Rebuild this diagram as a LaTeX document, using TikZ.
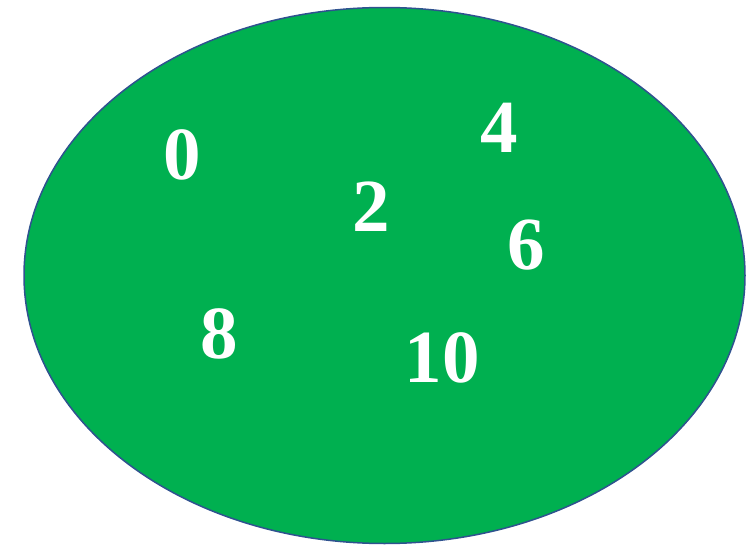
\documentclass[tikz,border=0pt]{standalone}
\usepackage{fontspec}
\setmainfont{Liberation Serif}
\definecolor{SetGreen}{HTML}{00B050}
\definecolor{SetEdge}{HTML}{2F528F}

\begin{document}
\begin{tikzpicture}[x=1pt,y=-1pt]
\tikzset{elem/.style={text=white, font=\fontsize{75}{75}\selectfont\bfseries, inner sep=0pt}}
\useasboundingbox (0,0) rectangle (756,546);

% --- the set ---
\draw[SetEdge, line width=1.5pt, fill=SetGreen] (384.5,275.5) ellipse [x radius=360.5, y radius=268];

% --- its elements ---
\node[elem] (e-0) at (182,155) {0};
\node[elem] (e-4) at (499,128) {4};
\node[elem] (e-2) at (371,207) {2};
\node[elem] (e-6) at (526,245) {6};
\node[elem] (e-8) at (219,334) {8};
\node[elem] (e-10) at (442,358) {10};
\end{tikzpicture}
\end{document}
